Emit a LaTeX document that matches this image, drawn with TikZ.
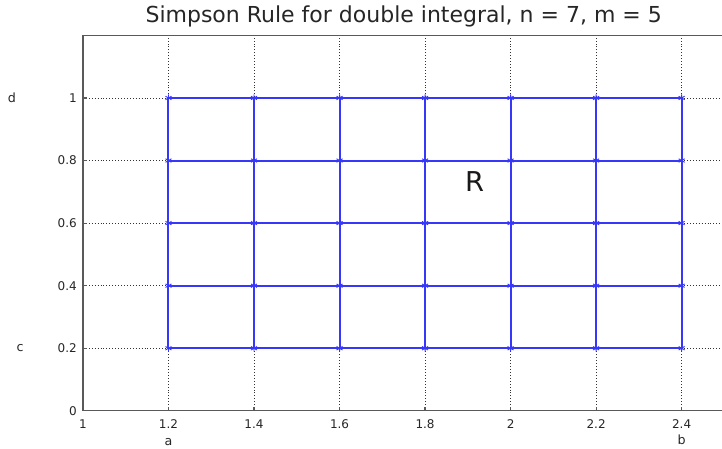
\documentclass[tikz,border=0pt]{standalone}
\usepackage{fontspec}
\setmainfont{DejaVu Sans}
\usetikzlibrary{plotmarks}
\definecolor{meshblue}{RGB}{55,55,250}
\begin{document}
\begin{tikzpicture}[
    x=320.85pt,
    y=234.75pt,
    axisline/.style={
        draw=black!65,
        line width=0.9pt
    },
    gridline/.style={
        draw=black!80,
        line width=0.6pt,
        dash pattern=on 0.6pt off 1.6pt
    },
    meshline/.style={
        draw=meshblue,
        line width=1.5pt
    },
    meshmark/.style={
        meshblue,
        line width=0.7pt,
        mark size=2.6pt
    },
    ticklabel/.style={
        font=\fontsize{9}{10}\selectfont,
        text=black!85,
        inner sep=0pt
    },
    endlabel/.style={
        font=\fontsize{9.5}{10}\selectfont,
        text=black!85,
        inner sep=0pt
    }
]

% Frame of the picture
\useasboundingbox (0.806,-0.1214) rectangle (2.4944,1.3131);

% Plot limits
\def\Xmin{1}
\def\Xmax{2.4944}
\def\Ymin{0}
\def\Ymax{1.2}

% ==================================================
% Title
% ==================================================

\node[font=\fontsize{16.5}{18}\selectfont, text=black!85] (title) at (1.75,1.262)
    {Simpson Rule for double integral, n = 7, m = 5};

% ==================================================
% Dotted grid
% ==================================================

\foreach \x in {1.2,1.4,1.6,1.8,2,2.2,2.4}
    \draw[gridline] (\x,\Ymin) -- (\x,\Ymax);

\foreach \y in {0.2,0.4,0.6,0.8,1}
    \draw[gridline] (\Xmin,\y) -- (\Xmax,\y);

% ==================================================
% Axes and ticks
% ==================================================

\draw[axisline] (\Xmax,\Ymax) -- (\Xmin,\Ymax) -- (\Xmin,\Ymin) -- (\Xmax,\Ymin);

\foreach \x in {1.2,1.4,1.6,1.8,2,2.2,2.4}
    \draw[axisline] (\x,\Ymin) -- ++(0,3pt);

\foreach \y in {0.2,0.4,0.6,0.8,1}
    \draw[axisline] (\Xmin,\y) -- ++(3pt,0);

\foreach \x/\name in {1/1,1.2/2,1.4/3,1.6/4,1.8/5,2/6,2.2/7,2.4/8}
    \node[ticklabel, anchor=north] (tx\name) at ([yshift=-6.5pt]\x,\Ymin) {\x};

\foreach \y/\name in {0/0,0.2/1,0.4/2,0.6/3,0.8/4,1/5}
    \node[ticklabel, anchor=east] (ty\name) at ([xshift=-4.5pt]\Xmin,\y) {\y};

% ==================================================
% Simpson mesh
% ==================================================

\foreach \x in {1.2,1.4,1.6,1.8,2,2.2,2.4}
    \draw[meshline] (\x,0.2) -- (\x,1);

\foreach \y in {0.2,0.4,0.6,0.8,1}
    \draw[meshline] (1.2,\y) -- (2.4,\y);

\foreach \x in {1.2,1.4,1.6,1.8,2,2.2,2.4}
    \foreach \y in {0.2,0.4,0.6,0.8,1}
        \draw[meshmark] plot[mark=asterisk] coordinates {(\x,\y)};

% ==================================================
% Region and limits
% ==================================================

\node[font=\fontsize{20.5}{22}\selectfont, text=black!90] (region) at (1.916,0.732) {R};

\node[endlabel] (lbla) at (1.2,-0.100) {a};
\node[endlabel] (lblb) at (2.4,-0.092) {b};
\node[endlabel] (lblc) at (0.853,0.2) {c};
\node[endlabel] (lbld) at (0.834,1) {d};

\end{tikzpicture}
\end{document}
